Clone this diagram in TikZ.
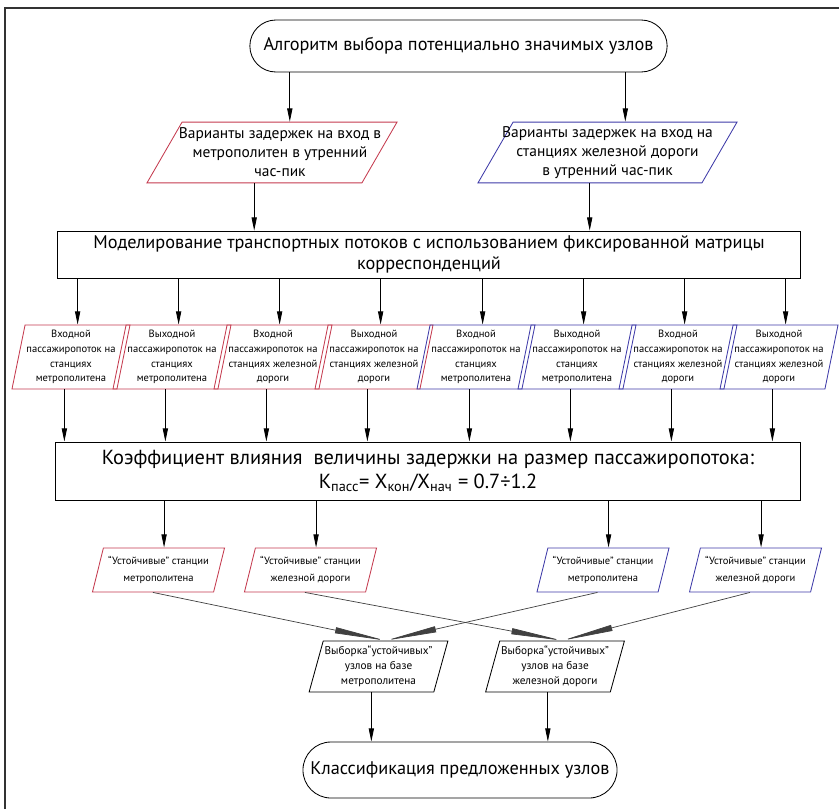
\documentclass[tikz,border=0pt]{standalone}
\usepackage{fontspec}
\setmainfont{PT Sans}
\usetikzlibrary{shapes.geometric,arrows.meta}
\definecolor{metrored}{RGB}{196,58,78}
\definecolor{railblue}{RGB}{62,58,168}

\begin{document}
\begin{tikzpicture}[x=0.025cm,y=-0.025cm,
  term/.style={rectangle,draw,line width=0.6pt,rounded corners=0.65cm,minimum height=1.3cm,font=\fontsize{13}{15}\selectfont},
  procbox/.style={rectangle,draw,line width=0.6pt,align=center},
  databox/.style={trapezium,draw,line width=0.6pt,align=center,trapezium stretches body,inner sep=1pt},
  varbox/.style={databox,trapezium left angle=60,trapezium right angle=120},
  vartext/.style={align=center,font=\fontsize{11}{13.5}\selectfont},
  flowbox/.style={databox,trapezium left angle=77,trapezium right angle=103,minimum width=2.85cm,minimum height=1.6cm,font=\fontsize{7.5}{10.5}\selectfont},
  stablebox/.style={databox,trapezium left angle=70,trapezium right angle=110,minimum width=3.3cm,minimum height=1.1cm,font=\fontsize{7.5}{12}\selectfont},
  flow/.style={-{Triangle[length=0.33cm,width=0.13cm]},line width=0.6pt},
  merge/.style={-{Triangle[length=1.28cm,width=0.15cm]},line width=0.5pt,draw=black!75}]
  \useasboundingbox (0,0) rectangle (839,809);
  \draw[line width=1.2pt,black!80] (5,809) -- (5,8) -- (839,8);

  \node[term,minimum width=10.43cm] (start) at (458.5,46) {Алгоритм выбора потенциально значимых узлов};
  \node[varbox,draw=metrored,minimum width=6.25cm,label={[vartext,xshift=0.2cm]center:{Варианты задержек на вход в\\метрополитен в утренний\\час-пик}}] (metroVar) at (272,152.5) {\rule{0pt}{1.45cm}};
  \node[varbox,draw=railblue,minimum width=6.475cm,label={[vartext]center:{Варианты задержек на вход на\\станциях железной дороги\\в утренний час-пик}}] (railVar) at (607.5,152.5) {\rule{0pt}{1.45cm}};
  \node[procbox,minimum width=18.55cm,minimum height=1.125cm,font=\fontsize{13}{15}\selectfont] (model) at (429,254.5) {Моделирование транспортных потоков с использованием фиксированной матрицы\\корреспонденций};

  \node[flowbox,draw=metrored] (metroIn) at (71,357) {Входной\\пассажиропоток на\\станциях\\метрополитена};
  \node[flowbox,draw=metrored] (metroOut) at (172,357) {Выходной\\пассажиропоток на\\станциях\\метрополитена};
  \node[flowbox,draw=metrored] (railIn) at (273,357) {Входной\\пассажиропоток на\\станциях железной\\дороги};
  \node[flowbox,draw=metrored] (railOut) at (374,357) {Выходной\\пассажиропоток на\\станциях железной\\дороги};
  \node[flowbox,draw=railblue] (metroInB) at (476,357) {Входной\\пассажиропоток на\\станциях\\метрополитена};
  \node[flowbox,draw=railblue] (metroOutB) at (577,357) {Выходной\\пассажиропоток на\\станциях\\метрополитена};
  \node[flowbox,draw=railblue] (railInB) at (678,357) {Входной\\пассажиропоток на\\станциях железной\\дороги};
  \node[flowbox,draw=railblue] (railOutB) at (779,357) {Выходной\\пассажиропоток на\\станциях железной\\дороги};

  \node[procbox,minimum width=18.6cm,minimum height=1.45cm,font=\fontsize{14.5}{17}\selectfont] (coef) at (428,471) {Коэффициент влияния\ \ величины задержки на размер пассажиропотока:\\K\textsubscript{пасс}= X\textsubscript{кон}/X\textsubscript{нач} = 0.7÷1.2};

  \node[stablebox,draw=metrored] (stMetro) at (158.5,570) {“Устойчивые” станции\\метрополитена};
  \node[stablebox,draw=metrored] (stRail) at (310.5,570) {“Устойчивые” станции\\железной дороги};
  \node[stablebox,draw=railblue] (stMetroB) at (603,570) {“Устойчивые” станции\\метрополитена};
  \node[stablebox,draw=railblue] (stRailB) at (755.5,570) {“Устойчивые” станции\\железной дороги};

  \node[databox,trapezium left angle=72,trapezium right angle=108,minimum width=3.175cm,minimum height=1.275cm,font=\fontsize{8}{10.5}\selectfont] (selMetro) at (378.5,666.5) {Выборка“устойчивых”\\узлов на базе\\метрополитена};
  \node[databox,trapezium left angle=72,trapezium right angle=108,minimum width=3.175cm,minimum height=1.275cm,font=\fontsize{8}{10.5}\selectfont] (selRail) at (555,666.5) {Выборка“устойчивых”\\узлов на базе\\железной дороги};
  \node[term,minimum width=7.85cm,minimum height=1.4cm,rounded corners=0.7cm] (finish) at (460,770) {Классификация предложенных узлов};

  % top part
  \draw[flow] (start.south -| metroVar.top side) -- (metroVar.top side);
  \draw[flow] (start.south -| railVar.top side) -- (railVar.top side);
  \draw[flow] (metroVar.bottom side) -- (metroVar.bottom side |- model.north);
  \draw[flow] (railVar.bottom side) -- (railVar.bottom side |- model.north);

  % into the passenger flow row
  \draw[flow] (metroIn.top side |- model.south) -- (metroIn.top side);
  \draw[flow] (metroOut.top side |- model.south) -- (metroOut.top side);
  \draw[flow] (railIn.top side |- model.south) -- (railIn.top side);
  \draw[flow] (railOut.top side |- model.south) -- (railOut.top side);
  \draw[flow] (metroInB.top side |- model.south) -- (metroInB.top side);
  \draw[flow] (metroOutB.top side |- model.south) -- (metroOutB.top side);
  \draw[flow] (railInB.top side |- model.south) -- (railInB.top side);
  \draw[flow] (railOutB.top side |- model.south) -- (railOutB.top side);

  % out of the passenger flow row
  \draw[flow] (metroIn.bottom side) -- (metroIn.bottom side |- coef.north);
  \draw[flow] (metroOut.bottom side) -- (metroOut.bottom side |- coef.north);
  \draw[flow] (railIn.bottom side) -- (railIn.bottom side |- coef.north);
  \draw[flow] (railOut.bottom side) -- (railOut.bottom side |- coef.north);
  \draw[flow] (metroInB.bottom side) -- (metroInB.bottom side |- coef.north);
  \draw[flow] (metroOutB.bottom side) -- (metroOutB.bottom side |- coef.north);
  \draw[flow] (railInB.bottom side) -- (railInB.bottom side |- coef.north);
  \draw[flow] (railOutB.bottom side) -- (railOutB.bottom side |- coef.north);

  % stable stations
  \draw[flow] (stMetro.top side |- coef.south) -- (stMetro.top side);
  \draw[flow] (stRail.top side |- coef.south) -- (stRail.top side);
  \draw[flow] (stMetroB.top side |- coef.south) -- (stMetroB.top side);
  \draw[flow] (stRailB.top side |- coef.south) -- (stRailB.top side);

  \draw[merge] (stMetro.bottom side) -- (selMetro.top side);
  \draw[merge] (stMetroB.bottom side) -- (selMetro.top side);
  \draw[merge] (stRail.bottom side) -- (selRail.top side);
  \draw[merge] (stRailB.bottom side) -- (selRail.top side);

  \draw[flow] (selMetro.bottom side) -- (selMetro.bottom side |- finish.north);
  \draw[flow] (selRail.bottom side) -- (selRail.bottom side |- finish.north);
\end{tikzpicture}
\end{document}
